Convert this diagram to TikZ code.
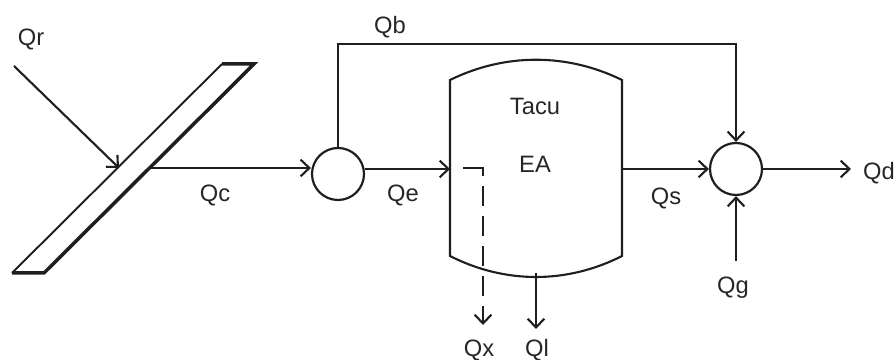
\documentclass[tikz,border=0pt]{standalone}
\usepackage{fontspec}
\setmainfont{Liberation Sans}
\usepackage{tikz}
\usetikzlibrary{arrows.meta,positioning}
\tikzset{
 flow/.style={line width=1.2pt,black!88,-{Straight Barb[length=5pt,width=9.5pt,line width=1.2pt]}},
 mixer/.style={circle,draw=black!88,line width=1.25pt,minimum size=1.04cm,inner sep=0pt},
 lbl/.style={font=\fontsize{13.5}{15}\selectfont,text=black!85,inner sep=0pt},
}
\begin{document}
\begin{tikzpicture}
\useasboundingbox (0,0) rectangle (17.9,7.2);
% collector
\coordinate (colTL) at (4.44,5.92);
\coordinate (colTR) at (5.08,5.92);
\coordinate (colBR) at (0.88,1.74);
\coordinate (colBL) at (0.24,1.74);
\draw[line width=1.1pt,black!88] (colTL)--(colBL);
\draw[line width=2pt,black!88,line join=miter] (colTL)--(colTR)--(colBR)--(colBL);
% tank
\coordinate (tankTL) at (9.0,5.6);
\coordinate (tankTR) at (12.44,5.6);
\coordinate (tankBR) at (12.44,2.08);
\coordinate (tankBL) at (9.0,2.08);
\draw[line width=1.2pt,black!88] (tankTL) .. controls (10.1,6.14) and (11.34,6.14) .. (tankTR)
 --(tankBR) .. controls (11.34,1.52) and (10.1,1.52) .. (tankBL)--cycle;
\node[mixer] (mixL) at (6.76,3.72){};
\node[mixer] (mixR) at (14.72,3.82){};
\coordinate (inR) at (0.28,5.88);
\coordinate (colIn) at (2.38,3.84);
\coordinate (colOut) at (3.02,3.84);
\coordinate (tankIn) at (9.0,3.82);
\coordinate (tankOut) at (12.44,3.82);
\coordinate (tankDrain) at (10.72,1.74);
\coordinate (drainEnd) at (10.72,0.62);
\coordinate (byCorner) at (14.72,6.32);
\coordinate (inG) at (14.72,1.98);
\coordinate (outD) at (17.02,3.82);
\coordinate (extStart) at (9.26,3.84);
\coordinate (extEnd) at (9.66,0.7);
\draw[flow] (inR)--(colIn);
\draw[flow] (colOut)--(colOut-|mixL.west);
\draw[flow] (mixL.north)|-(byCorner)--(mixR.north);
\draw[flow] (mixL.east|-tankIn)--(tankIn);
\draw[flow] (tankOut)--(mixR.west);
\draw[flow] (mixR.east)--(outD);
\draw[flow] (inG)--(mixR.south);
\draw[flow] (tankDrain)--(drainEnd);
\draw[flow,dash pattern=on .56cm off .2cm on .4cm off .2cm on .4cm off .2cm on .4cm off .2cm on .4cm off .2cm on .6cm off .2cm] (extStart)-|(extEnd);
\node[lbl] (lblQr) at (0.62,6.42){Qr};
\node[lbl] (lblQb) at (7.8,6.66){Qb};
\node[lbl] (lblQc) at (4.3,3.3){Qc};
\node[lbl] (lblQe) at (8.06,3.3){Qe};
\node[lbl] (lblTacu) at (10.7,5.07){Tacu};
\node[lbl] (lblEA) at (10.7,3.92){EA};
\node[lbl] (lblQs) at (13.32,3.24){Qs};
\node[lbl] (lblQd) at (17.58,3.74){Qd};
\node[lbl] (lblQg) at (14.66,1.44){Qg};
\node[lbl] (lblQx) at (9.58,0.2){Qx};
\node[lbl] (lblQl) at (10.74,0.2){Ql};
\end{tikzpicture}
\end{document}
